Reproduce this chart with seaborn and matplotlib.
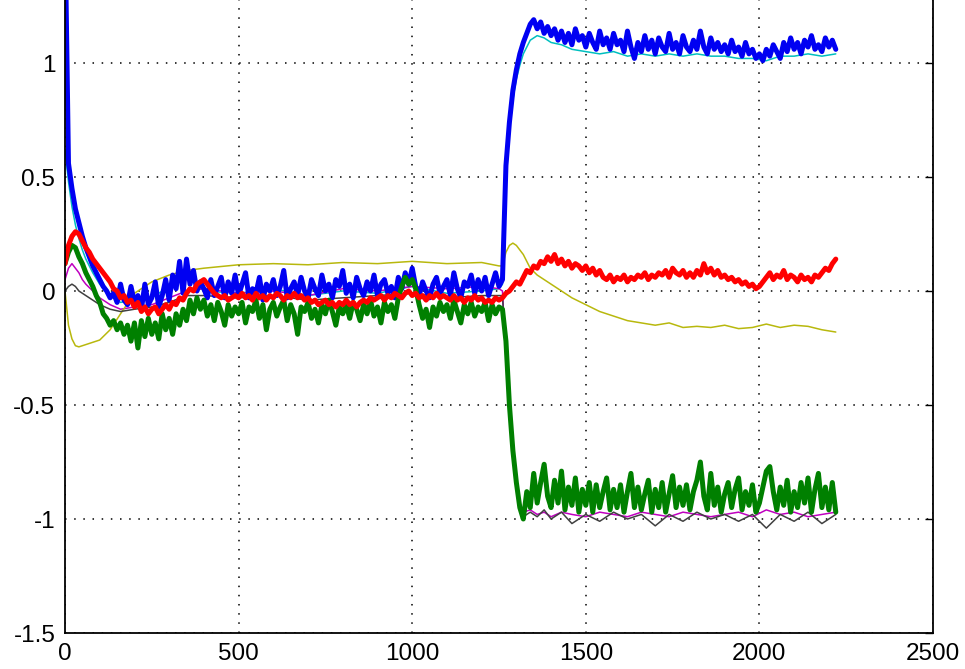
import numpy as np
import seaborn as sns
import matplotlib.pyplot as plt

# samples every 10 steps for the three noisy traces
sample_x = list(range(0, 2221, 10))

blue_y = [
    1.60, 0.56, 0.45, 0.36, 0.30, 0.24, 0.19, 0.15, 0.11, 0.08,
    0.05, 0.02, 0.00, -0.03, -0.01, -0.05, 0.03, -0.04, -0.06, 0.02,
    -0.05, -0.02, -0.08, 0.03, -0.06, -0.03, 0.04, -0.07, -0.02, 0.05,
    -0.04, 0.07, 0.01, 0.13, -0.01, 0.14, 0.03, 0.09, 0.00, 0.04,
    0.01, -0.03, 0.05, -0.02, 0.02, 0.06, -0.03, 0.04, -0.01, 0.07,
    -0.02, 0.03, 0.08, -0.03, 0.01, -0.01, 0.06, -0.04, 0.03, 0.00,
    0.05, -0.02, 0.02, 0.09, -0.03, 0.01, 0.04, -0.02, 0.06, 0.00,
    -0.03, 0.05, 0.01, -0.02, 0.07, 0.00, 0.03, -0.03, 0.05, 0.02,
    0.09, -0.01, 0.03, -0.03, 0.06, 0.01, -0.02, 0.04, 0.00, 0.07,
    -0.02, 0.03, 0.05, -0.01, 0.02, -0.03, 0.06, 0.01, 0.08, 0.03,
    0.10, 0.02, -0.02, 0.04, 0.00, -0.03, 0.03, 0.06, -0.01, 0.02,
    0.05, -0.02, 0.08, 0.01, -0.03, 0.04, 0.02, 0.07, -0.01, 0.05,
    0.00, 0.06, -0.02, 0.03, 0.08, 0.02, 0.05, 0.55, 0.74, 0.88,
    0.97, 1.04, 1.09, 1.13, 1.17, 1.19, 1.15, 1.18, 1.13, 1.16,
    1.12, 1.15, 1.10, 1.14, 1.09, 1.13, 1.08, 1.15, 1.10, 1.12,
    1.07, 1.13, 1.09, 1.06, 1.14, 1.08, 1.11, 1.06, 1.13, 1.08,
    1.10, 1.05, 1.14, 1.07, 1.02, 1.09, 1.05, 1.12, 1.06, 1.10,
    1.04, 1.11, 1.07, 1.05, 1.13, 1.06, 1.09, 1.04, 1.12, 1.07,
    1.05, 1.10, 1.06, 1.14, 1.07, 1.04, 1.11, 1.06, 1.09, 1.05,
    1.08, 1.04, 1.10, 1.05, 1.07, 1.03, 1.09, 1.04, 1.06, 1.02,
    1.04, 1.01, 1.06, 1.03, 1.08, 1.05, 1.02, 1.09, 1.05, 1.11,
    1.06, 1.09, 1.04, 1.10, 1.07, 1.12, 1.06, 1.08, 1.05, 1.11,
    1.07, 1.10, 1.06,
]

green_y = [
    0.12, 0.17, 0.20, 0.19, 0.15, 0.12, 0.08, 0.05, 0.02, -0.02,
    -0.05, -0.10, -0.12, -0.15, -0.13, -0.17, -0.14, -0.19, -0.15, -0.22,
    -0.14, -0.25, -0.13, -0.20, -0.12, -0.19, -0.14, -0.21, -0.10, -0.17,
    -0.12, -0.19, -0.10, -0.15, -0.08, -0.13, -0.04, -0.10, -0.03, -0.08,
    -0.04, -0.11, -0.06, -0.13, -0.05, -0.09, -0.15, -0.06, -0.11, -0.07,
    -0.10, -0.05, -0.14, -0.07, -0.09, -0.04, -0.12, -0.06, -0.17, -0.08,
    -0.05, -0.11, -0.07, -0.04, -0.13, -0.06, -0.10, -0.19, -0.07, -0.09,
    -0.05, -0.12, -0.08, -0.14, -0.06, -0.10, -0.04, -0.09, -0.15, -0.07,
    -0.10, -0.06, -0.12, -0.05, -0.08, -0.13, -0.06, -0.10, -0.04, -0.11,
    -0.07, -0.14, -0.05, -0.09, -0.06, -0.12, -0.03, 0.02, 0.06, 0.03,
    0.05, 0.01, -0.06, -0.12, -0.08, -0.16, -0.07, -0.11, -0.05, -0.09,
    -0.06, -0.12, -0.04, -0.09, -0.14, -0.06, -0.10, -0.05, -0.11, -0.07,
    -0.09, -0.05, -0.13, -0.06, -0.10, -0.07, -0.08, -0.22, -0.50, -0.70,
    -0.84, -0.95, -1.00, -0.88, -0.95, -0.80, -0.93, -0.84, -0.76, -0.90,
    -0.95, -0.83, -0.93, -0.79, -0.96, -0.86, -0.94, -0.82, -0.97, -0.87,
    -0.94, -0.84, -0.97, -0.85, -0.95, -0.88, -0.82, -0.96, -0.87, -0.95,
    -0.85, -0.97, -0.88, -0.80, -0.95, -0.86, -0.96, -0.89, -0.83, -0.97,
    -0.87, -0.95, -0.84, -0.97, -0.89, -0.81, -0.95, -0.86, -0.94, -0.85,
    -0.96, -0.88, -0.83, -0.75, -0.90, -0.96, -0.80, -0.94, -0.86, -0.97,
    -0.89, -0.84, -0.95, -0.87, -0.82, -0.96, -0.88, -0.94, -0.85, -0.97,
    -0.93, -0.86, -0.79, -0.77, -0.88, -0.96, -0.86, -0.94, -0.83, -0.97,
    -0.88, -0.95, -0.84, -0.93, -0.82, -0.97, -0.87, -0.80, -0.95, -0.86,
    -0.96, -0.84, -0.97,
]

red_y = [
    0.12, 0.20, 0.24, 0.26, 0.25, 0.22, 0.19, 0.17, 0.14, 0.12,
    0.10, 0.08, 0.06, 0.04, 0.01, 0.00, -0.03, -0.02, -0.05, -0.04,
    -0.07, -0.05, -0.09, -0.07, -0.10, -0.08, -0.07, -0.10, -0.08, -0.06,
    -0.08, -0.05, -0.06, -0.03, -0.04, -0.01, 0.01, 0.00, 0.03, 0.04,
    0.05, 0.03, 0.01, -0.01, -0.02, -0.03, -0.02, -0.04, -0.03, -0.02,
    -0.03, -0.01, -0.03, -0.02, -0.04, -0.01, -0.03, -0.02, -0.04, -0.02,
    -0.03, -0.01, -0.02, -0.04, -0.02, -0.03, -0.01, -0.03, -0.02, -0.04,
    -0.03, -0.05, -0.04, -0.06, -0.05, -0.04, -0.06, -0.05, -0.07, -0.05,
    -0.06, -0.04, -0.06, -0.05, -0.07, -0.05, -0.04, -0.05, -0.03, -0.04,
    -0.03, -0.02, -0.04, -0.02, -0.03, -0.01, -0.02, -0.03, -0.01, 0.00,
    -0.02, -0.01, -0.03, -0.02, -0.04, -0.02, -0.03, -0.01, -0.03, -0.02,
    -0.03, -0.04, -0.02, -0.04, -0.03, -0.05, -0.03, -0.04, -0.02, -0.04,
    -0.03, -0.05, -0.04, -0.05, -0.03, -0.04, -0.03, -0.01, 0.00, 0.02,
    0.04, 0.03, 0.06, 0.09, 0.08, 0.11, 0.10, 0.13, 0.12, 0.15,
    0.13, 0.16, 0.12, 0.14, 0.11, 0.13, 0.10, 0.12, 0.11, 0.09,
    0.11, 0.08, 0.10, 0.07, 0.09, 0.06, 0.05, 0.07, 0.04, 0.06,
    0.05, 0.07, 0.04, 0.06, 0.05, 0.07, 0.06, 0.08, 0.05, 0.07,
    0.06, 0.08, 0.07, 0.09, 0.06, 0.10, 0.08, 0.07, 0.09, 0.06,
    0.08, 0.06, 0.09, 0.07, 0.12, 0.08, 0.10, 0.07, 0.09, 0.06,
    0.07, 0.05, 0.06, 0.04, 0.05, 0.03, 0.04, 0.02, 0.03, 0.01,
    0.02, 0.04, 0.06, 0.08, 0.05, 0.07, 0.06, 0.09, 0.05, 0.07,
    0.06, 0.04, 0.07, 0.05, 0.06, 0.04, 0.07, 0.06, 0.08, 0.10,
    0.09, 0.12, 0.14,
]

# coarser samples for the four thin traces
thin_x = [0, 10, 20, 30, 40, 50, 60, 80, 100, 130, 160, 200, 250, 300, 350, 400,
          500, 600, 700, 800, 900, 1000, 1100, 1200,
          1250, 1260, 1270, 1280, 1290, 1300, 1310, 1320,
          1340, 1360, 1380, 1400, 1430, 1460,
          1500, 1540, 1580, 1620, 1660, 1700, 1740, 1780, 1820, 1860,
          1900, 1940, 1980, 2020, 2060, 2100, 2140, 2180, 2220]

cyan_y = [0.62, 0.48, 0.37, 0.29, 0.23, 0.18, 0.14, 0.08, 0.03, -0.02, -0.05, -0.04, -0.03, 0.02, 0.06, 0.00,
          -0.01, 0.01, -0.02, 0.00, -0.01, 0.02, -0.01, 0.00,
          0.01, 0.03, 0.48, 0.70, 0.84, 0.93, 0.99, 1.04,
          1.10, 1.12, 1.11, 1.09, 1.08, 1.06,
          1.05, 1.04, 1.05, 1.03, 1.04, 1.03, 1.04, 1.03, 1.04, 1.03,
          1.03, 1.02, 1.02, 1.01, 1.03, 1.03, 1.04, 1.03, 1.04]

magenta_y = [0.05, 0.10, 0.12, 0.10, 0.08, 0.05, 0.03, 0.00, -0.03, -0.06, -0.08, -0.07, -0.06, -0.03, 0.00, 0.01,
             -0.01, 0.00, -0.02, 0.01, 0.00, 0.02, 0.01, 0.02,
             0.01, 0.00, -0.30, -0.52, -0.72, -0.85, -0.93, -0.97,
             -0.96, -0.98, -0.97, -0.99, -0.97, -0.98,
             -0.99, -0.97, -0.98, -0.99, -0.97, -0.98, -0.99, -0.97, -0.98, -0.99,
             -0.98, -0.97, -0.99, -0.96, -0.98, -0.97, -0.99, -0.98, -0.97]

gray_y = [0.00, 0.02, 0.03, 0.02, 0.00, -0.01, -0.02, -0.04, -0.06, -0.08, -0.09, -0.08, -0.07, -0.05, -0.02, -0.02,
          -0.03, -0.02, -0.04, -0.03, -0.02, -0.01, -0.03, -0.02,
          -0.02, -0.02, -0.28, -0.50, -0.70, -0.84, -0.93, -0.99,
          -0.97, -0.99, -0.96, -1.00, -0.97, -1.02,
          -0.98, -1.01, -0.97, -1.00, -0.98, -1.03, -0.98, -1.01, -0.97, -1.00,
          -0.98, -1.01, -0.98, -1.04, -0.98, -1.01, -0.97, -1.02, -0.98]

olive_y = [0.00, -0.15, -0.21, -0.24, -0.245, -0.24, -0.235, -0.225, -0.215, -0.17, -0.10, -0.01, 0.04, 0.07, 0.09, 0.10,
           0.115, 0.12, 0.115, 0.125, 0.12, 0.13, 0.12, 0.125,
           0.11, 0.11, 0.17, 0.20, 0.21, 0.20, 0.18, 0.16,
           0.10, 0.07, 0.05, 0.03, 0.00, -0.03,
           -0.06, -0.09, -0.11, -0.13, -0.14, -0.15, -0.14, -0.16, -0.155, -0.16,
           -0.15, -0.165, -0.16, -0.145, -0.16, -0.15, -0.155, -0.17, -0.18]

x_ticks = [0, 500, 1000, 1500, 2000, 2500]
x_tick_labels = ["0", "500", "1000", "1500", "2000", "2500"]
y_ticks = [-1.5, -1, -0.5, 0, 0.5, 1]
y_tick_labels = ["-1.5", "-1", "-0.5", "0", "0.5", "1"]

sns.set_style("white")
plt.rcParams['font.family'] = ['Liberation Sans', 'DejaVu Sans']

fig = plt.figure(figsize=(9.65, 6.69), dpi=100)
# top of the box sits above the picture, like the cropped original
ax = fig.add_axes([65 / 965, 36 / 669, 868 / 965, 684 / 669])

thin = [(cyan_y, (0, 0.75, 0.75)), (magenta_y, (0.75, 0, 0.75)),
        (olive_y, (0.72, 0.72, 0.05)), (gray_y, (0.25, 0.25, 0.25))]
for ys, c in thin:
    sns.lineplot(x=thin_x, y=ys, color=c, linewidth=1.1, estimator=None, ax=ax)

sns.lineplot(x=sample_x, y=blue_y, color=(0, 0, 0.95), linewidth=3.6, estimator=None, ax=ax)
sns.lineplot(x=sample_x, y=green_y, color=(0, 0.5, 0), linewidth=3.6, estimator=None, ax=ax)
sns.lineplot(x=sample_x, y=red_y, color=(1, 0, 0), linewidth=3.6, estimator=None, ax=ax)

ax.set_xlim(0, 2500)
ax.set_ylim(-1.5, 1.5)
ax.set_xticks(x_ticks)
ax.set_xticklabels(x_tick_labels)
ax.set_yticks(y_ticks)
ax.set_yticklabels(y_tick_labels)
ax.set_xlabel("")
ax.set_ylabel("")

ax.grid(True, color="black", linestyle=(0, (1, 5)), linewidth=1.1)
ax.set_axisbelow(True)
for s in ax.spines.values():
    s.set_color("black")
    s.set_linewidth(1.3)
ax.tick_params(direction="in", length=6, width=1, top=True, right=True,
               labelsize=17.5, pad=7, colors="black")

fig.savefig("out.png", dpi=100)
